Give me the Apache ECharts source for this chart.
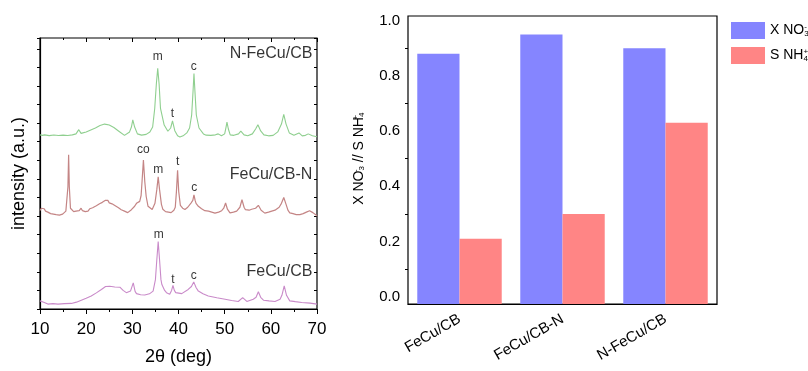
<!DOCTYPE html>
<html>
<head>
<meta charset="utf-8">
<script src="https://cdn.jsdelivr.net/npm/echarts@6/dist/echarts.min.js"></script>
<style>
  html, body { margin: 0; padding: 0; background: #fff; }
  #chart { width: 808px; height: 371px; }
</style>
</head>
<body>
<div id="chart"></div>
<script>
// ---- XRD patterns, [2theta, intensity a.u.] (curves are already offset) ----
const nFeCuCB = [
  [10.0,178],[10.5,177.5],[11,178],[12,177.2],[13,177.8],[14,177.4],[15,177.7],[16,177.3],[17,178],
  [17.8,179],[18.4,183.3],[18.9,179.5],[19.3,180],[20,181],[21,183],[22,185],[23,187.5],[24,189],
  [25,188],[26,185.5],[27,182],[28.3,177.5],[29.4,181],[29.8,186],[30.1,193.3],[30.5,186],[31.1,179],
  [32,177.7],[33,178.5],[33.8,181],[34.4,186],[34.85,205],[35.2,230],[35.5,246],[35.8,230],[36.1,205],
  [36.9,188],[37.7,181.7],[38.3,185],[38.7,192.3],[39.2,182.3],[39.8,177],[40.3,175.7],[41,177],
  [41.8,180],[42.4,185],[42.85,198.3],[43.14,221.7],[43.35,240.7],[43.57,221.7],[43.86,198.3],
  [44.44,185],[45.4,179],[46,177.7],[47,177.5],[48,178],[48.6,179],[49.3,177],[50,179],[50.3,186],
  [50.5,191],[50.8,184],[51.2,178],[52,177.5],[53,179],[53.5,181.7],[54.2,178],[55,177],[56,179],
  [56.7,184],[57.2,188.3],[57.8,182],[58.5,178],[59.5,177],[60.5,177.5],[61.5,181],[62.3,189],
  [62.8,199],[63.3,189],[64,180],[65,177.7],[66.1,180],[66.8,177],[67.5,177.5],[68.1,179],[69,177],[70,176]
];
const feCuCBN = [
  [10.0,100.7],[10.3,103],[10.6,101],[10.9,102.5],[11.2,100],[11.5,101],[11.7,99],[12.0,100],[12.3,97.5],
  [12.6,99],[12.9,97],[13.2,98],[13.5,96.5],[13.9,97.5],[14.2,96],[14.6,97.5],[14.9,97],[15.3,99],
  [15.6,100],[15.8,102],[16.05,125],[16.2,157.7],[16.35,125],[16.6,103],[17.0,101],[17.3,99.5],
  [17.5,101],[17.8,100],[18.2,102],[18.5,100.5],[18.9,103],[19.2,100.5],[19.5,101],[19.8,99.5],
  [20.1,101],[20.4,100],[20.8,102.5],[21.1,101.5],[21.4,103.5],[21.8,102.5],[22.2,105.5],[22.6,105],
  [22.9,107.5],[23.2,106.5],[23.5,109],[23.8,108],[24.1,111],[24.4,109.5],[24.7,111],[25.0,108.5],
  [25.3,110],[25.6,107.5],[26.0,108],[26.3,105.5],[26.6,106],[27.0,103.5],[27.3,104],[27.6,101.5],
  [28.0,102],[28.3,100],[28.7,100.5],[29.0,98.5],[29.4,99],[29.8,101.5],[30.2,103],[30.5,105],
  [30.9,108],[31.3,107],[31.6,110],[31.9,116],[32.1,130],[32.4,152.3],[32.7,130],[33.0,115],[33.4,105],
  [33.8,103],[34.3,101.7],[34.9,108],[35.3,122],[35.6,135],[35.9,122],[36.3,107],[36.6,102],[36.9,100],
  [37.2,99.5],[37.5,98.5],[37.8,99],[38.1,97.3],[38.4,98.5],[38.7,99],[39.0,101],[39.3,104],[39.55,120],
  [39.8,141.7],[40.05,120],[40.4,106],[40.7,104],[40.9,103],[41.2,102.5],[41.4,101.7],[41.7,103],
  [42.0,104],[42.4,106],[42.7,108.3],[43.1,111],[43.35,116.7],[43.6,111],[43.8,108],[44.3,105],
  [44.6,104],[45.0,102.5],[45.4,101],[45.7,100.5],[46.1,99],[46.5,100],[46.8,98],[47.2,99],[47.5,97],
  [47.9,98],[48.3,97],[48.7,99],[49.0,98.5],[49.35,100.5],[49.8,103],[50.2,108.3],[50.6,102],
  [51.15,98.3],[51.5,99.5],[51.9,99],[52.3,100.5],[52.6,100],[53.0,101.5],[53.3,104],[53.75,111.7],
  [54.2,104],[54.5,101.5],[54.8,100],[55.3,101],[55.6,100],[55.85,102],[56.2,101.5],[56.7,103],
  [57.3,106],[57.9,101],[58.3,99],[58.7,98],[59.1,99.5],[59.5,99],[59.8,101],[60.2,100],[60.5,102],
  [60.9,101],[61.3,103],[61.8,104],[62.3,108],[62.8,114],[63.3,107],[63.7,101],[64.1,98.3],[64.5,98],
  [64.8,97.5],[65.2,96],[65.5,96.5],[65.9,94.5],[66.3,96.5],[66.7,95.5],[67.0,97.5],[67.4,96.5],
  [67.7,99],[68.1,98.5],[68.4,100.5],[68.8,99.5],[69.1,98.5],[69.5,97],[69.8,96],[70.0,95]
];
const feCuCB = [
  [10.0,8.3],[10.8,7],[11.7,5],[12.8,5.5],[13.9,5],[15.3,5.5],[16.8,5.7],[17.9,7],[18.95,9],[20.0,11],
  [21.1,13.3],[22.2,16.5],[23.3,20],[24.2,23],[25.1,23.3],[26.2,22.5],[27.3,22.3],[28.0,19],[28.7,16.7],
  [29.6,18.3],[30.2,26.7],[30.6,18],[30.9,15.7],[31.8,14.5],[32.7,14.3],[33.7,15.5],[34.5,18.3],
  [35.0,30],[35.3,50],[35.6,69],[35.9,50],[36.2,30],[36.4,25],[37.0,19],[37.4,16.7],[38.1,15],
  [38.5,19],[38.8,24],[39.1,19],[39.4,16.7],[40.7,15.7],[42.1,20],[42.8,23],[43.3,27.7],[43.8,22],
  [44.3,18.3],[45.3,15.5],[46.45,13.3],[48.3,11.5],[50.1,10],[51.5,8.7],[52.95,7.7],[53.9,11.7],
  [54.8,7.7],[56.2,10],[56.8,12],[57.3,17.7],[57.8,12],[58.4,9],[59.6,8.3],[60.9,7.7],[62.0,10],
  [62.4,14],[62.9,23.7],[63.4,14],[64.1,8.3],[65.3,7.5],[66.7,6.7],[68.5,6],[70.0,5]
];

// peak markers and sample names, placed in data coordinates
const peakLabels = [
  [35.5,258,'m'],[38.7,200,'t'],[43.3,248,'c'],
  [32.4,163,'co'],[35.6,142,'m'],[39.8,151,'t'],[43.4,124,'c'],
  [35.7,76,'m'],[38.8,30,'t'],[43.3,34,'c']
];
const sampleLabels = [[69.0,261,'N-FeCu/CB'],[69.0,137,'FeCu/CB-N'],[69.0,38,'FeCu/CB']];

// ---- bar panel ----
const categories = ['FeCu/CB', 'FeCu/CB-N', 'N-FeCu/CB'];
const xNO3 = [0.88, 0.95, 0.90];
const sNH4 = [0.21, 0.30, 0.63];
const barAxisMin = -0.0264;
const barAxisMax = 1.017;

const FONT = 'Liberation Sans, Arial, sans-serif';
const chart = echarts.init(document.getElementById('chart'));

function barSeries(name, values, side, color) {
  return {
    type: 'custom',
    name: name,
    xAxisIndex: 3,
    yAxisIndex: 3,
    itemStyle: { color: color },
    data: values.map((v, i) => [i, v]),
    encode: { x: 0, y: 1 },
    renderItem: (params, api) => {
      const ci = api.value(0);
      const top = api.coord([ci, api.value(1)]);
      const base = api.coord([ci, barAxisMin]);
      const w = api.size([1, 0])[0] * 0.41;
      return {
        type: 'rect',
        shape: { x: side < 0 ? top[0] - w : top[0], y: top[1], width: w, height: base[1] - top[1] },
        style: api.style()
      };
    }
  };
}

// superscript is given no width so that it sits right above the subscript
function chemRich(size, small, shift) {
  return {
    t: { fontSize: size, fontFamily: FONT, color: '#000' },
    sup: { fontSize: small, fontFamily: FONT, color: '#000', width: 0.01,
      verticalAlign: 'top', padding: [0, 0, shift, 0] },
    sub: { fontSize: small, fontFamily: FONT, color: '#000',
      verticalAlign: 'bottom', padding: [shift, 0, 0, 0] }
  };
}

const legendNames = {
  'X NO3': '{t|X NO}{sup|-}{sub|3}',
  'S NH4': '{t|S NH}{sup|+}{sub|4}'
};

const option = {
  animation: false,
  backgroundColor: '#fff',
  textStyle: { fontFamily: FONT },
  grid: [
    // XRD panel
    { left: 40, right: 491, top: 38, bottom: 56, show: true, borderColor: '#000', borderWidth: 1.2 },
    // bar panel frame (holds the bars)
    { left: 408, right: 91, top: 16, bottom: 67, show: true, borderColor: '#000', borderWidth: 1.2 },
    // bar panel tick scale 0..1
    { left: 408, right: 91, top: 20.7, bottom: 74.3 }
  ],
  legend: {
    left: 726, top: 17, orient: 'vertical',
    itemWidth: 34, itemHeight: 17, itemGap: 8,
    icon: 'rect',
    formatter: n => legendNames[n],
    textStyle: { rich: chemRich(14, 8, 7) }
  },
  xAxis: [
    {
      gridIndex: 0, type: 'value', min: 10, max: 70, interval: 10,
      name: '2θ (deg)', nameLocation: 'middle', nameGap: 39,
      nameTextStyle: { fontSize: 18, color: '#000', fontFamily: FONT },
      axisLine: { onZero: false, lineStyle: { color: '#000', width: 1.2 } },
      axisTick: { length: 5, lineStyle: { color: '#000' } },
      minorTick: { show: true, splitNumber: 2, length: 3, lineStyle: { color: '#000' } },
      axisLabel: { fontSize: 17, color: '#000', margin: 12 },
      splitLine: { show: false }
    },
    {
      gridIndex: 0, type: 'value', position: 'top', min: 10, max: 70, interval: 10,
      axisLine: { show: false, onZero: false },
      axisTick: { inside: true, length: 4, lineStyle: { color: '#000' } },
      minorTick: { show: true, splitNumber: 2, length: 2, lineStyle: { color: '#000' } },
      axisLabel: { show: false }, splitLine: { show: false }
    },
    // bar panel category axis: ticks at centres, labels
    {
      gridIndex: 1, type: 'category', data: categories, position: 'bottom',
      axisLine: { onZero: false, lineStyle: { color: '#000', width: 1.2 } },
      axisTick: { alignWithLabel: true, length: 4, lineStyle: { color: '#000' } },
      axisLabel: { fontSize: 15, color: '#000', rotate: 30, margin: 14, interval: 0 }
    },
    // bar panel category axis: ticks at boundaries, holds the bars
    {
      gridIndex: 1, type: 'category', data: categories, position: 'bottom',
      axisLine: { show: false, onZero: false },
      axisTick: { length: 4, lineStyle: { color: '#000' } },
      axisLabel: { show: false }
    },
    // hidden x axis for the tick-scale grid
    {
      gridIndex: 2, type: 'category', data: categories, show: false
    }
  ],
  yAxis: [
    {
      gridIndex: 0, type: 'value', min: 0, max: 277, interval: 19,
      name: 'intensity (a.u.)', nameLocation: 'middle', nameGap: 12,
      nameTextStyle: { fontSize: 18, color: '#000', fontFamily: FONT },
      axisLine: { lineStyle: { color: '#000', width: 1.2 } },
      axisTick: { length: 3, lineStyle: { color: '#000' } },
      axisLabel: { show: false }, splitLine: { show: false }
    },
    {
      gridIndex: 0, type: 'value', position: 'right', min: 0, max: 277, interval: 19,
      axisLine: { show: false },
      axisTick: { inside: true, length: 3, lineStyle: { color: '#000' } },
      axisLabel: { show: false }, splitLine: { show: false }
    },
    // bar panel tick scale
    {
      gridIndex: 2, type: 'value', min: 0, max: 1, interval: 0.2,
      name: '{t|X NO}{sup|-}{sub|3}{t| // S NH}{sup|+}{sub|4}',
      nameLocation: 'middle', nameGap: 42,
      nameTextStyle: { rich: chemRich(14, 8, 6) },
      axisLine: { show: false },
      axisTick: { length: 5, lineStyle: { color: '#000' } },
      minorTick: { show: true, splitNumber: 2, length: 3, lineStyle: { color: '#000' } },
      axisLabel: { fontSize: 15, color: '#000', margin: 8, formatter: v => v.toFixed(1) },
      splitLine: { show: false }
    },
    // bar panel value axis for the bars
    {
      gridIndex: 1, type: 'value', min: barAxisMin, max: barAxisMax,
      axisLine: { show: false }, axisTick: { show: false },
      axisLabel: { show: false }, splitLine: { show: false }
    },
    {
      gridIndex: 2, type: 'value', position: 'right', min: 0, max: 1, interval: 0.1,
      axisLine: { show: false },
      axisTick: { inside: true, length: 3, lineStyle: { color: '#000' } },
      axisLabel: { show: false }, splitLine: { show: false }
    }
  ],
  series: [
    { type: 'line', xAxisIndex: 0, yAxisIndex: 0, data: nFeCuCB, showSymbol: false,
      lineStyle: { color: '#8fcf8f', width: 1.1 } },
    { type: 'line', xAxisIndex: 0, yAxisIndex: 0, data: feCuCBN, showSymbol: false,
      lineStyle: { color: '#c48585', width: 1.2 } },
    { type: 'line', xAxisIndex: 0, yAxisIndex: 0, data: feCuCB, showSymbol: false,
      lineStyle: { color: '#c98ac9', width: 1.1 } },
    { type: 'scatter', xAxisIndex: 0, yAxisIndex: 0, symbolSize: 0, silent: true,
      data: peakLabels,
      label: { show: true, position: 'inside', formatter: p => p.data[2],
        fontSize: 12, color: '#000', fontFamily: FONT } },
    { type: 'scatter', xAxisIndex: 0, yAxisIndex: 0, symbolSize: 0, silent: true,
      data: sampleLabels,
      label: { show: true, position: 'left', distance: 0, formatter: p => p.data[2],
        fontSize: 16, color: '#000', fontFamily: FONT } },
    barSeries('X NO3', xNO3, -1, '#8585ff'),
    barSeries('S NH4', sNH4, 1, '#ff8585')
  ]
};
chart.setOption(option);
</script>
</body>
</html>
